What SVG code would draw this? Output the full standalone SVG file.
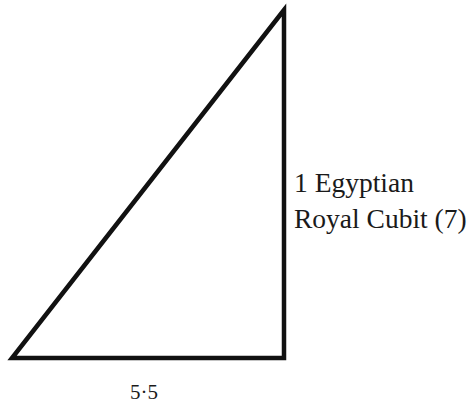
<svg xmlns="http://www.w3.org/2000/svg" width="471" height="404" viewBox="0 0 471 404">
<style>
.lbl{font-family:"Liberation Serif","Times New Roman",serif;font-size:27.5px;fill:#1a1a1a}
.edge{fill:none;stroke:#111;stroke-width:4.5;stroke-linejoin:miter}
</style>
<rect width="471" height="404" fill="#fff"/>
<g id="connectors">
<polygon class="edge" points="284,10 12,358 284,358"/>
</g>
<g id="label-height">
<text class="lbl" x="294" y="192">1 Egyptian</text>
<text class="lbl" x="294" y="228">Royal Cubit (7)</text>
</g>
<g id="label-base">
<text class="lbl" x="144" y="399" text-anchor="middle" style="font-size:21px">5·5</text>
</g>
</svg>
